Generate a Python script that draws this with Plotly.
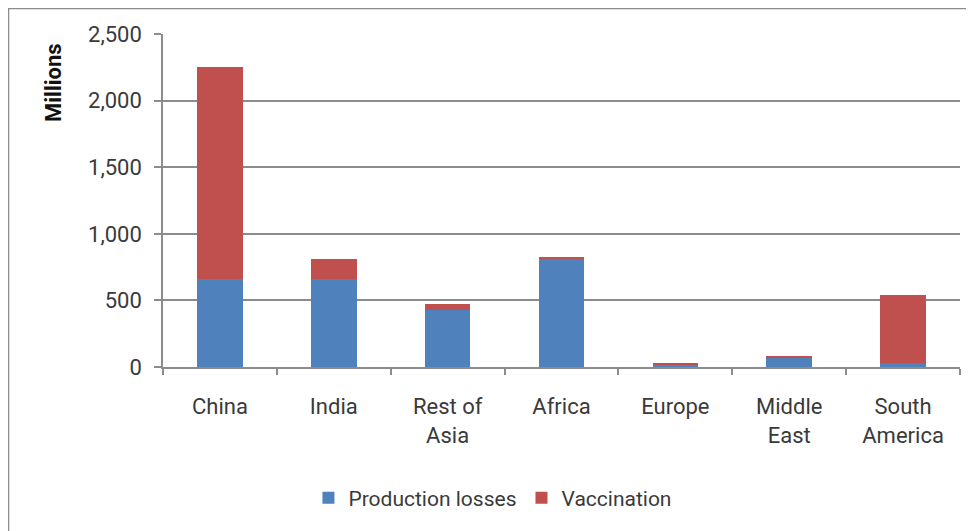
import plotly.graph_objects as go

categories = ["China", "India", "Rest of<br>Asia", "Africa", "Europe", "Middle<br>East", "South<br>America"]
production_losses = [664, 664, 431, 811, 15, 73, 28]
vaccination = [1591, 150, 40, 18, 15, 13, 510]
y_ticks = [0, 500, 1000, 1500, 2000, 2500]

BLUE = "#4F81BD"
RED = "#C0504D"
GRID = "#8c8c8c"
TXT = "#3a3a3a"
FONT = "Roboto"

fig = go.Figure()
fig.add_trace(go.Bar(x=categories, y=production_losses, name="Production losses",
                     marker=dict(color=BLUE, line=dict(width=0))))
fig.add_trace(go.Bar(x=categories, y=vaccination, name="Vaccination",
                     marker=dict(color=RED, line=dict(width=0))))

# page has an 8px body margin; figure coordinates = reference pixels - 8
W, H = 966, 523
L, R, T, B = 155, 14, 26, 164
pw, ph = W - L - R, H - T - B

def px2x(px):
    return (px - L) / pw

def px2y(py):
    return 1 - (py - T) / ph

fig.update_layout(
    width=W, height=H,
    barmode="stack", bargap=0.6,
    margin=dict(l=L, r=R, t=T, b=B, autoexpand=False),
    paper_bgcolor="white", plot_bgcolor="white",
    font=dict(family=FONT, size=22, color=TXT),
    showlegend=True,
    legend=dict(orientation="h", xref="container", yref="container",
                x=0.502, xanchor="center", y=33 / H, yanchor="middle",
                font=dict(family=FONT, size=21, color=TXT),
                traceorder="normal"),
    xaxis=dict(showline=True, linecolor=GRID, linewidth=1.5,
               ticks="outside", tickson="boundaries", ticklen=6, tickcolor=GRID, tickwidth=1.5,
               ticklabelstandoff=19, showgrid=False,
               tickfont=dict(family=FONT, size=22, color=TXT)),
    yaxis=dict(range=[0, 2500], tickvals=y_ticks, tickformat=",",
               showline=True, linecolor=GRID, linewidth=1.5,
               ticks="outside", ticklen=7, tickcolor=GRID, tickwidth=1.5,
               showgrid=True, gridcolor=GRID, gridwidth=1.5,
               zeroline=False, ticklabelstandoff=8,
               tickfont=dict(family=FONT, size=22, color=TXT)),
    annotations=[dict(text="<b>Millions</b>", textangle=-90, xref="paper", yref="paper",
                      x=px2x(45), y=px2y(75), showarrow=False, xanchor="center", yanchor="middle",
                      font=dict(family=FONT, size=22, color="#111111"))],
    shapes=[dict(type="rect", xref="paper", yref="paper",
                 x0=px2x(0.5), x1=px2x(W + 20), y0=px2y(H + 30), y1=px2y(0.5),
                 line=dict(color=GRID, width=1.5), fillcolor="rgba(0,0,0,0)", layer="below")],
)

fig.write_html("out.html")
